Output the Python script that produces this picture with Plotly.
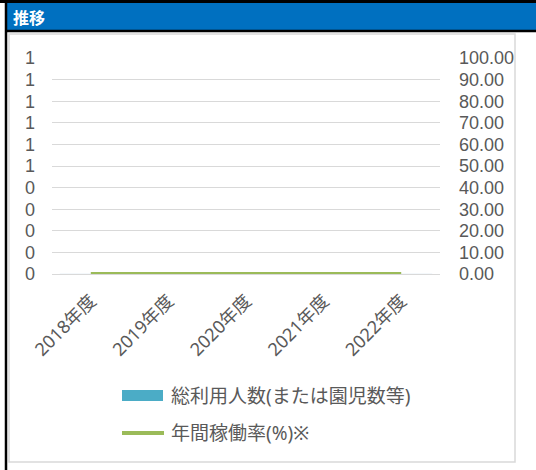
import plotly.graph_objects as go

# ---- data ----
categories = ["2018年度", "2019年度", "2020年度", "2021年度", "2022年度"]
total_users = [0, 0, 0, 0, 0]          # 総利用人数(または園児数等)
utilization_rate = [0, 0, 0, 0, 0]     # 年間稼働率(%)※
left_tickvals = [0, 0.1, 0.2, 0.3, 0.4, 0.5, 0.6, 0.7, 0.8, 0.9, 1.0]
left_ticktext = ["0", "0", "0", "0", "0", "1", "1", "1", "1", "1", "1"]
series_names = ["総利用人数(または園児数等)", "年間稼働率(%)※"]
header_title = "推移"

# ---- layout geometry (pixels) ----
W, H = 536, 470
PL, PR, PT, PB = 52, 440, 58, 274  # plot area


def px(x):
    return (x - PL) / (PR - PL)


def py(y):
    return (PB - y) / (PB - PT)


FONT = "'Noto Sans', 'Noto Sans CJK JP', sans-serif"
NUMFONT = "'Liberation Sans', 'Noto Sans CJK JP', sans-serif"
GRAY = "#595959"
GRID = "#D9D9D9"
BAR_COLOR = "#4BACC6"
LINE_COLOR = "#9BBB59"

fig = go.Figure()
fig.add_trace(go.Bar(x=categories, y=total_users, name=series_names[0],
                     marker_color=BAR_COLOR, yaxis="y", showlegend=False))
fig.add_trace(go.Scatter(x=categories, y=utilization_rate, name=series_names[1],
                         mode="lines", line=dict(color=LINE_COLOR, width=4),
                         yaxis="y2", showlegend=False, cliponaxis=False))

shapes = []
# chart border
shapes.append(dict(type="rect", xref="paper", yref="paper",
                   x0=px(9), x1=px(515), y0=py(34), y1=py(462),
                   line=dict(color=GRID, width=1.5), fillcolor="rgba(0,0,0,0)",
                   layer="below"))
# header bar
shapes.append(dict(type="rect", xref="paper", yref="paper",
                   x0=px(7), x1=px(537), y0=py(3), y1=py(30),
                   line=dict(width=0), fillcolor="#0070C0", layer="below"))
# black frame lines
shapes.append(dict(type="line", xref="paper", yref="paper",
                   x0=px(0), x1=px(537), y0=py(1.5), y1=py(1.5),
                   line=dict(color="black", width=3)))
shapes.append(dict(type="line", xref="paper", yref="paper",
                   x0=px(5), x1=px(537), y0=py(31), y1=py(31),
                   line=dict(color="black", width=2.5)))
shapes.append(dict(type="line", xref="paper", yref="paper",
                   x0=px(6), x1=px(6), y0=py(0), y1=py(471),
                   line=dict(color="black", width=2.5)))
# legend symbols
shapes.append(dict(type="rect", xref="paper", yref="paper",
                   x0=px(122), x1=px(163), y0=py(390), y1=py(401),
                   line=dict(width=0), fillcolor=BAR_COLOR))
shapes.append(dict(type="line", xref="paper", yref="paper",
                   x0=px(122), x1=px(164), y0=py(433), y1=py(433),
                   line=dict(color=LINE_COLOR, width=4)))

annotations = [
    dict(text=f"<b>{header_title}</b>", xref="paper", yref="paper",
         x=px(11), y=py(17), xanchor="left", yanchor="middle", showarrow=False,
         font=dict(family="'Noto Sans CJK JP'", size=16, color="white")),
    dict(text=series_names[0], xref="paper", yref="paper",
         x=px(169), y=py(396), xanchor="left", yanchor="middle", showarrow=False,
         font=dict(family=FONT, size=19, color=GRAY)),
    dict(text=series_names[1], xref="paper", yref="paper",
         x=px(169), y=py(433), xanchor="left", yanchor="middle", showarrow=False,
         font=dict(family=FONT, size=19, color=GRAY)),
]

fig.update_layout(
    width=W, height=H, autosize=False,
    margin=dict(l=PL, r=W - PR, t=PT, b=H - PB, pad=0),
    paper_bgcolor="white", plot_bgcolor="white",
    font=dict(family=FONT, size=18, color=GRAY),
    showlegend=False,
    shapes=shapes, annotations=annotations,
    xaxis=dict(type="category", showgrid=False, zeroline=False, showline=False,
               tickangle=-45, ticks="", ticklabelstandoff=12,
               tickfont=dict(family=FONT, size=18, color=GRAY)),
    yaxis=dict(range=[0, 1], tickvals=left_tickvals, ticktext=left_ticktext,
               showgrid=True, gridcolor=GRID, gridwidth=1,
               zeroline=True, zerolinecolor=GRID, zerolinewidth=1,
               showline=False, ticks="", ticklabelstandoff=16,
               tickfont=dict(family=NUMFONT, size=18, color=GRAY)),
    yaxis2=dict(range=[0, 100], dtick=10, tickformat=".2f", overlaying="y",
                side="right", showgrid=False, zeroline=False, showline=False,
                ticks="", ticklabelstandoff=18,
                tickfont=dict(family=NUMFONT, size=18, color=GRAY)),
)

fig.write_html("out.html", config={"displayModeBar": False},
               post_script="document.body.style.margin='0';")
